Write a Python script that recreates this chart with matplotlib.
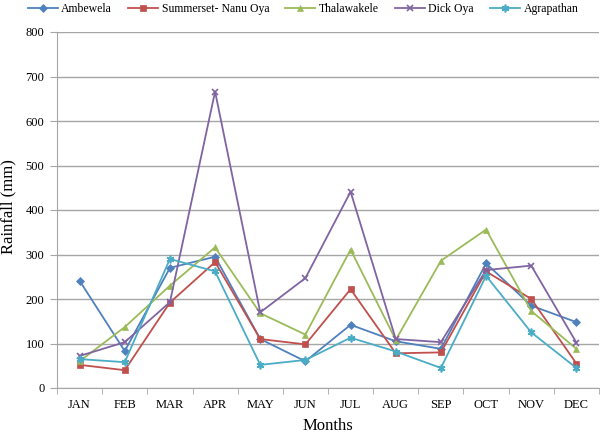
import matplotlib
matplotlib.use("Agg")
import matplotlib.pyplot as plt
import numpy as np

months = ["JAN", "FEB", "MAR", "APR", "MAY", "JUN", "JUL", "AUG", "SEP", "OCT", "NOV", "DEC"]
ambewela = [241, 83, 270, 295, 110, 60, 142, 105, 88, 280, 185, 148]
summerset = [52, 40, 192, 283, 110, 98, 222, 78, 80, 262, 200, 55]
thalawakele = [60, 137, 230, 316, 168, 120, 311, 108, 286, 356, 173, 88]
dick_oya = [72, 103, 193, 666, 170, 247, 441, 110, 103, 265, 275, 102]
agrapathan = [65, 58, 290, 262, 52, 63, 113, 82, 45, 252, 125, 45]
yticks = [0, 100, 200, 300, 400, 500, 600, 700, 800]

plt.rcParams['font.family'] = ['Liberation Serif', 'DejaVu Serif']

fig = plt.figure(figsize=(6.04, 4.41), dpi=100)
ax = fig.add_axes([57/604, 53/441, 542/604, 356/441])

x = np.arange(len(months))
series = [
    ("Ambewela", ambewela, "#4F81BD", "D", 5),
    ("Summerset- Nanu Oya", summerset, "#C0504D", "s", 6),
    ("Thalawakele", thalawakele, "#9BBB59", "^", 6),
    ("Dick Oya", dick_oya, "#8064A2", "x", 6),
    ("Agrapathan", agrapathan, "#4BACC6", (6, 2, 0), 7),
]
for name, vals, col, mk, ms in series:
    ax.plot(x, vals, color=col, marker=mk, markersize=ms, linewidth=1.3,
            markeredgewidth=1.2 if mk == "x" or isinstance(mk, tuple) else 0.5,
            markeredgecolor=col, label=name)

ax.set_xlim(-0.5, 11.5)
ax.set_ylim(0, 800)
ax.set_yticks(yticks)
ax.yaxis.grid(True, color="#A6A6A6", linewidth=1.0)
ax.set_axisbelow(True)
ax.set_xticks(x)
ax.set_xticklabels(months, fontsize=9)
ax.tick_params(axis='x', length=0, pad=8)
ax.set_xticks(np.arange(-0.5, 12, 1), minor=True)
ax.tick_params(axis='x', which='minor', length=4, color="#A6A6A6", direction='out')
ax.tick_params(axis='y', length=5, color="#A6A6A6", labelsize=9, pad=4)
for s in ("top", "right"):
    ax.spines[s].set_visible(False)
for s in ("left", "bottom"):
    ax.spines[s].set_color("#A6A6A6")
ax.set_xlabel("Months", fontsize=12, labelpad=5)
fig.text(8/604, 1 - 207/441, "Rainfall (mm)", rotation=90, fontsize=12,
         ha="center", va="center")

handles, labels = ax.get_legend_handles_labels()
for h in handles:
    h.set_markersize(h.get_markersize() * 0.8)
fig.legend(handles, labels, loc="center", bbox_to_anchor=(303/604, 1 - 9/441), ncol=5,
           frameon=False, fontsize=8.5, handlelength=2.55, columnspacing=1.35,
           handletextpad=0.3, borderpad=0, borderaxespad=0)

fig.savefig("out.png", dpi=100)
